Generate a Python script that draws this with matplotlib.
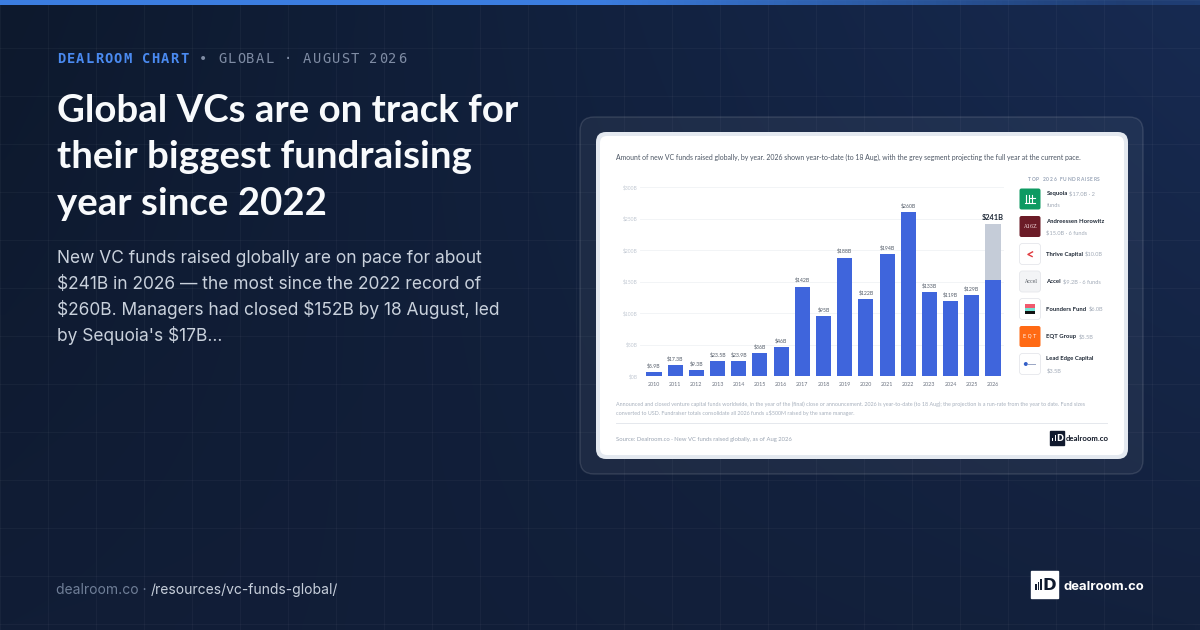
import numpy as np
import matplotlib
matplotlib.use("Agg")
import matplotlib.pyplot as plt
from matplotlib.patches import FancyBboxPatch, Rectangle
from matplotlib.colors import to_rgb

plt.rcParams["text.parse_math"] = False

# ---- data ----
years = list(range(2010, 2027))
raised = [5.9, 17.3, 9.3, 23.5, 23.9, 36, 46, 142, 95, 188, 122, 194, 260, 133, 119, 129, 152]
projected_2026 = 241
ytick_vals = [0, 50, 100, 150, 200, 250, 300]

fundraisers = ["Sequoia", "Andreessen Horowitz", "Thrive Capital", "Accel",
               "Founders Fund", "EQT Group", "Lead Edge Capital"]
fund_amounts = ["$17.0B · 2 funds", "$15.0B · 6 funds", "$10.0B", "$9.2B · 6 funds",
                "$6.0B", "$5.5B", "$3.5B"]
wrap_mode = ["split", "below", "inline", "inline", "inline", "inline", "below"]

title_lines = ["Global VCs are on track for", "their biggest fundraising", "year since 2022"]
desc_lines = ["New VC funds raised globally are on pace for about",
              "$241B in 2026 \u2014 the most since the 2022 record of",
              "$260B. Managers had closed $152B by 18 August, led",
              "by Sequoia's $17B..."]
subtitle = ("Amount of new VC funds raised globally, by year. 2026 shown year-to-date (to 18 Aug), "
            "with the grey segment projecting the full year at the current pace.")
footnote = ["Announced and closed venture capital funds worldwide, in the year of the (final) close or "
            "announcement. 2026 is year-to-date (to 18 Aug); the projection is a run-rate from the year to date. Fund sizes",
            "converted to USD. Fundraiser totals consolidate all 2026 funds \u2265$500M raised by the same manager."]
source = "Source: Dealroom.co \u00b7 New VC funds raised globally, as of Aug 2026"

BLUE = "#3f65dc"
GREY = "#c5ccd8"
W, H = 1200, 630

fig = plt.figure(figsize=(W / 100, H / 100), dpi=100)
bg = fig.add_axes([0, 0, 1, 1])
bg.set_xlim(0, W)
bg.set_ylim(H, 0)
bg.axis("off")
R = fig.canvas.get_renderer()

# background gradient
tl, tr, bl, br = [np.array(to_rgb(c)) for c in ("#0d192d", "#172a51", "#111d36", "#13213d")]
u = np.linspace(0, 1, 120)[None, :, None]
v = np.linspace(0, 1, 64)[:, None, None]
grad = (1 - v) * ((1 - u) * tl + u * tr) + v * ((1 - u) * bl + u * br)
bg.imshow(grad, extent=[0, W, H, 0], aspect="auto", interpolation="bilinear", zorder=0)
for gx in range(0, W + 1, 48):
    bg.axvline(gx, color=(1, 1, 1, 0.035), lw=0.8, zorder=1)
for gy in range(0, H + 1, 48):
    bg.axhline(gy, color=(1, 1, 1, 0.035), lw=0.8, zorder=1)

# top accent bar
bar = np.zeros((1, 200, 4))
bar[..., :3] = to_rgb("#3b7de0")
xs = np.linspace(0, W, 200)
bar[0, :, 3] = np.clip(1 - (xs - 600) / 700, 0.25, 1)
bg.imshow(bar, extent=[0, W, 5.5, 0], aspect="auto", zorder=2)


def measure(t):
    return t.get_window_extent(renderer=R).width


def fit(x, y, s, width, **kw):
    t = bg.text(x, y, s, **kw)
    t.set_fontsize(t.get_fontsize() * width / measure(t))
    return t


def runs(x, y, parts, gap=0.0, **kw):
    for s, props in parts:
        t = bg.text(x, y, s, va="baseline", **{**kw, **props})
        x += measure(t) + gap
    return x


def tracked(x, y, s, track, space=None, **kw):
    # letter-spaced text, one glyph at a time
    for ch in s:
        if ch == " ":
            x += space if space is not None else track * 3
            continue
        t = bg.text(x, y, ch, va="baseline", **kw)
        x += measure(t) + track
    return x


def rbox(x, y, w, h, r, **kw):
    p = FancyBboxPatch((x, y), w, h, boxstyle=f"round,pad=0,rounding_size={r}", **kw)
    bg.add_patch(p)
    return p


def dr_mark(x, y, s, fg):
    # small "bars + D" dealroom mark
    for i, hh in enumerate([0.22, 0.32, 0.42]):
        bg.add_patch(Rectangle((x + s * (0.16 + i * 0.09), y + s * 0.72 - s * hh), s * 0.06, s * hh,
                               color=fg, zorder=6, lw=0))
    bg.text(x + s * 0.43, y + s * 0.73, "D", color=fg, fontsize=s * 0.62 * 0.72,
            fontweight="bold", family="DejaVu Sans", va="baseline", zorder=6)


# ---- left column ----
mono = dict(fontsize=9.9, family="DejaVu Sans Mono")
xk = tracked(57, 63, "DEALROOM CHART", 1.2, space=9.55, color="#4a8af0", fontweight="bold", **mono)
tracked(xk + 9.55, 63, "\u2022 GLOBAL \u00b7 AUGUST 2026", 1.2, space=9.55, color="#7f8ca4", **mono)

t0 = fit(57, 122, title_lines[0], 460, color="#f8fafc", fontsize=30, family="Lato",
         fontweight="bold", va="baseline")
for i, line in enumerate(title_lines[1:], 1):
    bg.text(57, 122 + 46.5 * i, line, color="#f8fafc", fontsize=t0.get_fontsize(),
            family="Lato", fontweight="bold", va="baseline")

d0 = fit(57, 263, desc_lines[0], 426, color="#c9d1dc", fontsize=14, family="Inter", va="baseline")
for i, line in enumerate(desc_lines[1:], 1):
    bg.text(57, 263 + 26 * i, line, color="#c9d1dc", fontsize=d0.get_fontsize(),
            family="Inter", va="baseline")

foot_parts = [("dealroom.co \u00b7 ", {"color": "#6f7e97"}), ("/resources/vc-funds-global/", {"color": "#c7cfdb"})]
runs(56, 594, foot_parts, family="Inter", fontsize=10.0)

bg.add_patch(Rectangle((1031, 571), 26.5, 26.5, color="white", zorder=5))
dr_mark(1031, 571, 26.5, "#0f1a2e")
fit(1063, 590, "dealroom.co", 80, color="white", fontsize=12, family="Inter",
    fontweight="bold", va="baseline")

# ---- card ----
rbox(580, 117, 563, 357, 14, facecolor=(1, 1, 1, 0.05), edgecolor=(1, 1, 1, 0.12), lw=1, zorder=3)
rbox(596, 132, 532, 327, 10, facecolor="#e4e9f0", edgecolor="none", zorder=3)
rbox(600, 136, 524, 319, 7, facecolor="white", edgecolor="none", zorder=3)

fit(616, 159.5, subtitle, 468, color="#4b5563", fontsize=5, family="Lato", va="baseline", zorder=6)
fn = fit(616, 406, footnote[0], 470, color="#a7b0bd", fontsize=3.6, family="Lato",
         va="baseline", zorder=6).get_fontsize()
bg.text(616, 415.5, footnote[1], color="#a7b0bd", fontsize=fn, family="Lato", va="baseline", zorder=6)
bg.plot([616, 1107], [423, 423], color="#e5e8ed", lw=0.7, zorder=6)
fit(616, 440.5, source, 176, color="#9aa4b2", fontsize=3.8, family="Lato", va="baseline", zorder=6)
bg.add_patch(Rectangle((1050, 431), 14, 14, color="#111a2e", zorder=5))
dr_mark(1050, 431, 14, "white")
bg.text(1066, 441, "dealroom.co", color="#111827", fontsize=5.6, family="Lato",
        fontweight="bold", va="baseline", zorder=6)

# side panel
tracked(1028, 181, "TOP 2026 FUNDRAISERS", 0.75, space=2.6, color="#97a3b6", fontsize=3.5,
        family="Lato", fontweight="bold", zorder=6)


def logo(i, x, y, s=21):
    if i == 0:
        rbox(x, y, s, s, 2, facecolor="#0e9a62", edgecolor="none", zorder=5)
        for fx in (0.3, 0.45, 0.6):
            bg.plot([x + s * fx, x + s * fx], [y + s * 0.3, y + s * 0.62], color="white", lw=0.8, zorder=6)
        bg.plot([x + s * 0.28, x + s * 0.72], [y + s * 0.68, y + s * 0.68], color="white", lw=0.8, zorder=6)
        bg.plot([x + s * 0.5, x + s * 0.72], [y + s * 0.45, y + s * 0.45], color="white", lw=0.8, zorder=6)
    elif i == 1:
        rbox(x, y, s, s, 2, facecolor="#6b1b27", edgecolor="none", zorder=5)
        bg.text(x + s / 2, y + s / 2, "A16Z", color="#f3d9dc", fontsize=3.6, family="DejaVu Serif",
                ha="center", va="center", zorder=6)
    elif i == 2:
        rbox(x, y, s, s, 3, facecolor="white", edgecolor="#e5e7eb", lw=0.6, zorder=5)
        bg.plot([x + s * 0.62, x + s * 0.4, x + s * 0.6], [y + s * 0.4, y + s * 0.52, y + s * 0.62],
                color="#e03a3e", lw=1.0, zorder=6)
    elif i == 3:
        rbox(x, y, s, s, 3, facecolor="#f3f4f6", edgecolor="#e5e7eb", lw=0.6, zorder=5)
        bg.text(x + s / 2, y + s / 2, "Accel", color="#555b63", fontsize=3.3, family="DejaVu Serif",
                ha="center", va="center", zorder=6)
    elif i == 4:
        rbox(x, y, s, s, 3, facecolor="white", edgecolor="#e5e7eb", lw=0.6, zorder=5)
        for k, c in enumerate(["#f0596d", "#73e1d3", "#111111"]):
            bg.add_patch(Rectangle((x + s * 0.27, y + s * (0.28 + k * 0.16)), s * 0.46, s * 0.15,
                                   color=c, lw=0, zorder=6))
    elif i == 5:
        rbox(x, y, s, s, 2, facecolor="#ff6a14", edgecolor="none", zorder=5)
        bg.text(x + s / 2, y + s / 2, "E Q T", color="white", fontsize=3.6, family="DejaVu Sans",
                ha="center", va="center", zorder=6)
    else:
        rbox(x, y, s, s, 3, facecolor="white", edgecolor="#e5e7eb", lw=0.6, zorder=5)
        bg.add_patch(plt.Circle((x + s * 0.3, y + s / 2), s * 0.06, color="#3460c8", zorder=6))
        bg.plot([x + s * 0.4, x + s * 0.72], [y + s / 2, y + s / 2], color="#9aa6c4", lw=0.7, zorder=6)


name_kw = dict(color="#1f2937", fontsize=4.3, family="Lato", fontweight="bold", zorder=6)
amt_kw = dict(color="#a2abb8", fontsize=4.1, family="Lato", zorder=6)
for i, (name, amt) in enumerate(zip(fundraisers, fund_amounts)):
    cy = 199 + 27.5 * i
    logo(i, 1019.5, cy - 10.5)
    if wrap_mode[i] == "inline":
        runs(1046.5, cy + 1.8, [(name, name_kw), (amt, amt_kw)], gap=1.6)
    elif wrap_mode[i] == "split":
        head, tail = amt.rsplit(" ", 1)
        runs(1046.5, cy - 3.8, [(name, name_kw), (head, amt_kw)], gap=1.6)
        runs(1046.5, cy + 8.2, [(tail, amt_kw)])
    else:
        runs(1046.5, cy - 3.8, [(name, name_kw)])
        runs(1046.5, cy + 8.2, [(amt, amt_kw)])

# ---- bar chart ----
ax = fig.add_axes([640 / W, 1 - 376 / H, 364 / W, 189 / H])
ax.set_facecolor("none")
x = np.arange(len(years))
ax.bar(x, raised, width=0.71, color=BLUE, zorder=3)
ax.bar(x[-1], projected_2026 - raised[-1], bottom=raised[-1], width=0.71, color=GREY, zorder=3)
ax.set_xlim(-0.66, 16.52)
ax.set_ylim(0, 300)
ax.set_yticks(ytick_vals)
ax.set_yticklabels([f"${v}B" for v in ytick_vals], fontsize=3.6, color="#c2c9d3", family="Lato")
ax.set_xticks(x)
ax.set_xticklabels([str(y) for y in years], fontsize=3.9, color="#6b7280", family="Lato")
ax.tick_params(length=0, pad=1.5, axis="y")
ax.tick_params(length=0, pad=4.2, axis="x")
ax.grid(axis="y", color="#f0f2f5", lw=0.6, zorder=0)
for s in ax.spines.values():
    s.set_visible(False)


def fmt(v):
    return f"${v:.1f}B" if v < 30 else f"${v:.0f}B"


for xi, v in zip(x[:-1], raised[:-1]):
    ax.annotate(fmt(v), (xi, v), xytext=(0, 2.6), textcoords="offset points", ha="center",
                va="bottom", fontsize=3.7, color="#525b68", family="Lato")
ax.annotate(fmt(projected_2026), (x[-1], projected_2026), xytext=(0, 2.6), textcoords="offset points",
            ha="center", va="bottom", fontsize=5.3, color="#1f2937", family="Lato", fontweight="bold")

fig.savefig("out.png", dpi=100)
